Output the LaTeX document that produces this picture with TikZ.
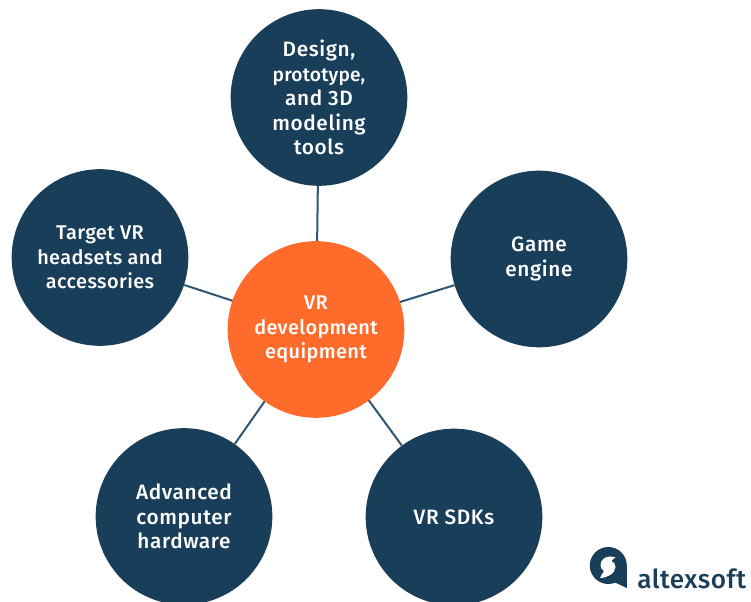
\documentclass[tikz,border=0pt]{standalone}
\usepackage{fontspec}
\setmainfont{Fira Sans Medium}
\definecolor{navy}{HTML}{193E5A}
\definecolor{orangec}{HTML}{FF6B2B}
\definecolor{linkc}{HTML}{2F5673}
\newcommand{\circfont}{\fontsize{14.9pt}{18.3pt}\selectfont\addfontfeatures{LetterSpace=2}}
\newcommand{\bigcircfont}{\fontsize{15.6pt}{18.3pt}\selectfont\addfontfeatures{LetterSpace=3}}
\newcommand{\tightfont}{\fontsize{14.4pt}{18.3pt}\selectfont\addfontfeatures{LetterSpace=1}}
\tikzset{
 px/.style={x=0.75pt,y=-0.75pt},
 outer/.style={circle,fill=navy,draw=none,minimum size=132.5pt,inner sep=0pt,text=white,font=\bigcircfont,align=center},
 outersmall/.style={outer,font=\circfont},
 hub/.style={circle,fill=orangec,draw=none,minimum size=132.5pt,inner sep=0pt,text=white,font=\circfont,align=center},
 link/.style={draw=linkc,line width=1.5pt}
}
\begin{document}
\begin{tikzpicture}[px]
\useasboundingbox (0,0) rectangle (751,602);
\fill[white] (0,0) rectangle (751,602);
\coordinate (c) at (316,328);
\node[outer] (a) at (319,97.5) {Design,\\{\tightfont prototype,}\\and 3D\\modeling\\tools};
\node[outer] (b) at (539,259) {Game\\engine};
\node[outer] (d) at (454,517) {VR SDKs};
\node[outer] (e) at (184,516.5) {Advanced\\computer\\hardware};
\node[outersmall] (f) at (100,257.5) {Target VR\\headsets and\\accessories};
\foreach \n in {a,b,d,e,f} \draw[link] (c) -- (\n);
\node[hub] (c) at (316,329.5) {VR\\development\\equipment};
% logo: speech bubble with S-shaped counter
\fill[navy] (608.3,565.5) circle[radius=18.5];
\fill[navy] (626.8,565.5) -- (626.8,588) -- (614,582) -- cycle;
\fill[white] (610,556.5) .. controls (605,556.5) and (600.5,560) .. (600.5,565)
  .. controls (600.5,568) and (602,570) .. (604,571)
  .. controls (602.5,574) and (600.5,576) .. (600,578)
  .. controls (606,578) and (615.5,574) .. (615.5,567)
  .. controls (615.5,564) and (613.5,562) .. (611.5,561)
  .. controls (612.5,559.5) and (614,558) .. (615.5,557.5)
  .. controls (614,557) and (612,556.5) .. (610,556.5) -- cycle;
\node[anchor=base west,text=navy,font=\fontsize{19.6pt}{20pt}\selectfont\addfontfeatures{LetterSpace=2},inner sep=0pt] (t) at (637,588.5) {altexsoft};
\end{tikzpicture}
\end{document}
